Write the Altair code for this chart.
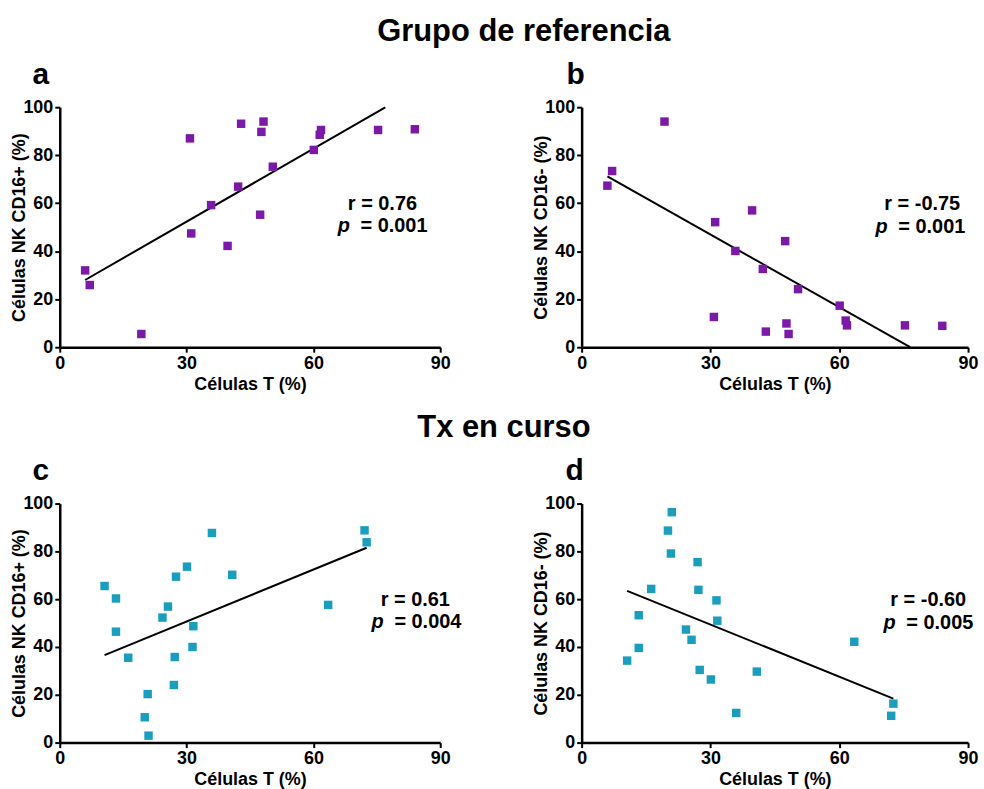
import altair as alt
import pandas as pd

# ---- data ----
ref_t = [6.0, 7.1, 19.3, 30.8, 31.1, 35.8, 39.7, 42.2, 42.9, 47.4, 47.7, 48.2, 50.4, 60.1, 61.5, 61.8, 75.3, 84.0]
ref_cd16pos = [32.0, 25.9, 5.5, 87.0, 47.4, 59.2, 42.2, 66.9, 93.1, 55.2, 89.7, 94.0, 75.2, 82.2, 88.5, 90.5, 90.5, 90.8]
ref_cd16neg = [67.3, 73.4, 94.0, 12.6, 52.1, 40.1, 57.0, 32.6, 6.5, 44.2, 9.9, 5.5, 24.2, 17.3, 11.1, 9.1, 9.1, 8.9]

tx_t = [10.6, 13.3, 13.3, 16.2, 20.1, 20.8, 21.0, 24.3, 25.6, 27.0, 27.2, 27.5, 30.1, 31.4, 31.6, 36.0, 40.8, 63.5, 72.1, 72.6]
tx_cd16pos = [65.5, 60.3, 46.4, 35.5, 10.6, 20.3, 2.9, 52.3, 56.9, 24.1, 35.8, 69.4, 73.6, 40.0, 48.7, 87.7, 70.2, 57.6, 88.8, 83.8]
tx_cd16neg = [34.3, 39.6, 53.3, 64.3, 88.7, 79.1, 96.4, 47.3, 43.0, 75.5, 63.9, 30.4, 26.4, 59.5, 51.0, 12.4, 29.7, 42.2, 11.2, 16.3]

# fitted lines (endpoints as drawn in the reference)
fit_a_x, fit_a_y = [6.0, 77.0], [28.0, 99.9]
fit_b_x, fit_b_y = [6.0, 76.5], [71.2, 0.0]
fit_c_x, fit_c_y = [10.6, 72.6], [36.6, 81.5]
fit_d_x, fit_d_y = [10.6, 72.6], [63.5, 18.4]

x_ticks = [0, 30, 60, 90]
y_ticks = [0, 20, 40, 60, 80, 100]

PURPLE = "#7A1AA6"
CYAN = "#1B9EBD"
FONT = "Liberation Sans"


def txt(label, x, y, size, align="center", style="normal"):
    return alt.Chart(pd.DataFrame({"t": [label]})).mark_text(
        font=FONT, fontSize=size, fontWeight="bold", fontStyle=style,
        align=align, baseline="middle", color="black"
    ).encode(x=alt.value(x), y=alt.value(y), text="t:N")


def panel(xv, yv, fx, fy, color, ytitle, w, h, letter, lxy, r_lab, r_xy, p_lab, p_xy, extra=None):
    df = pd.DataFrame({"x": xv, "y": yv})
    fit = pd.DataFrame({"x": fx, "y": fy})
    xenc = alt.X("x:Q", scale=alt.Scale(domain=[0, 90], nice=False),
                 axis=alt.Axis(values=x_ticks, title="Células T (%)", titlePadding=3))
    yenc = alt.Y("y:Q", scale=alt.Scale(domain=[0, 100], nice=False),
                 axis=alt.Axis(values=y_ticks, title=ytitle, titlePadding=-6))
    pts = alt.Chart(df).mark_square(size=72, color=color, opacity=1).encode(x=xenc, y=yenc)
    line = alt.Chart(fit).mark_line(color="black", strokeWidth=2).encode(x=xenc, y=yenc)
    layers = [line, pts,
              txt(letter, lxy[0], lxy[1], 30),
              txt(r_lab, r_xy[0], r_xy[1], 20),
              txt("p", p_xy[0], p_xy[1], 20, align="left", style="italic"),
              txt(p_lab, p_xy[0] + 23, p_xy[1], 20, align="left")]
    if extra is not None:
        layers.append(extra)
    return alt.layer(*layers).properties(width=w, height=h)


a = panel(ref_t, ref_cd16pos, fit_a_x, fit_a_y, PURPLE, "Células NK CD16+ (%)", 382, 241,
          "a", (-19, -32), "r = 0.76", (324, 97), "= 0.001", (279, 119),
          extra=txt("Grupo de referencia", 466, -75, 31))
b = panel(ref_t, ref_cd16neg, fit_b_x, fit_b_y, PURPLE, "Células NK CD16- (%)", 388, 241,
          "b", (-6, -32), "r = -0.75", (342, 97), "= 0.001", (295, 120))
c = panel(tx_t, tx_cd16pos, fit_c_x, fit_c_y, CYAN, "Células NK CD16+ (%)", 382, 240,
          "c", (-19, -33), "r = 0.61", (357, 97), "= 0.004", (313, 119),
          extra=txt("Tx en curso", 446, -76, 31))
d = panel(tx_t, tx_cd16neg, fit_d_x, fit_d_y, CYAN, "Células NK CD16- (%)", 388, 240,
          "d", (-7, -33), "r = -0.60", (348, 97), "= 0.005", (303, 120))

chart = alt.concat(
    a, b, c, d, columns=2, bounds="flush",
    spacing=alt.RowColnumber(row=157, column=142)
).properties(
    padding={"left": 10, "top": 15, "right": 5, "bottom": 5},
    background="white"
).configure_axis(
    domainColor="black", domainWidth=2.5, tickColor="black", tickWidth=2, tickSize=5,
    labelColor="black", labelFont=FONT, labelFontSize=18, labelFontWeight="bold",
    labelPadding=2, labelFlush=False,
    titleColor="black", titleFont=FONT, titleFontSize=18, titleFontWeight="bold",
    grid=False
).configure_view(stroke=None)

chart.save("out.html", embed_options={"renderer": "svg", "actions": False})
